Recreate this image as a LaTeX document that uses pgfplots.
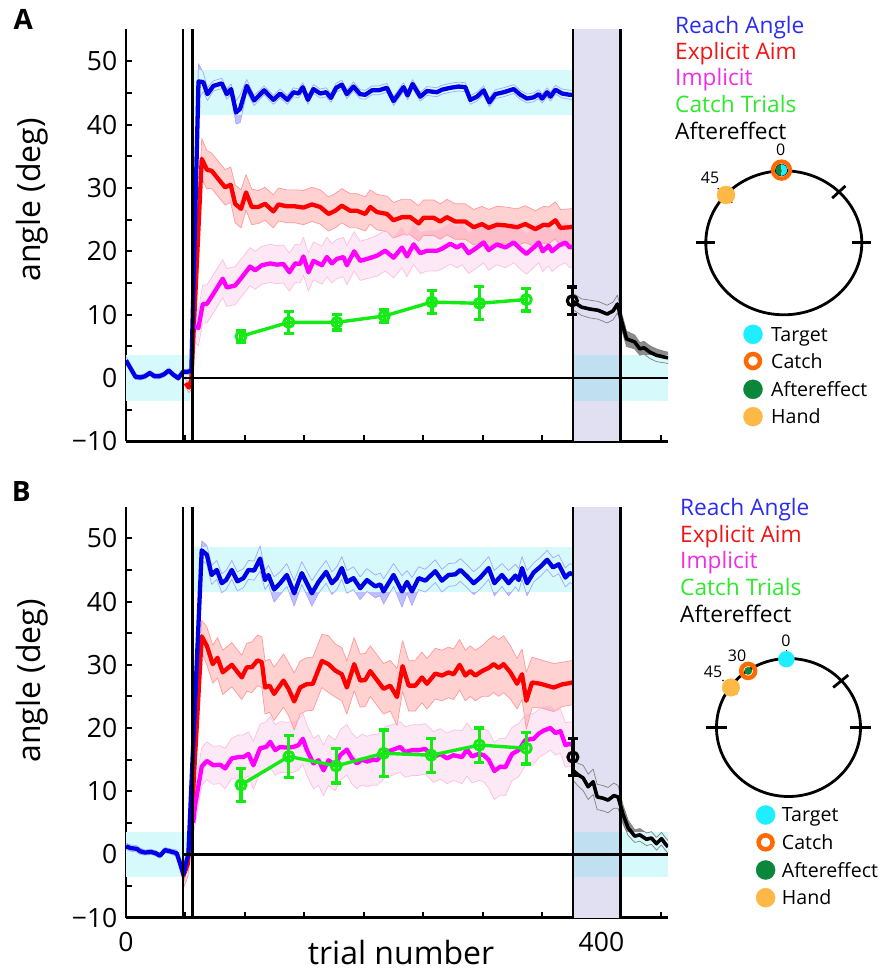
\documentclass[border=0pt]{standalone}
\usepackage{fontspec}
\setmainfont{Open Sans}
\usepackage{pgfplots}
\pgfplotsset{compat=1.18}
\usepackage{pgfplotstable}
\usepgfplotslibrary{fillbetween}
\usetikzlibrary{plotmarks}

\definecolor{cyanband}{RGB}{214,249,252}
\definecolor{lav}{RGB}{225,224,243}
\definecolor{overlap}{RGB}{192,224,241}
\definecolor{lblue}{RGB}{0,0,230}
\definecolor{lred}{RGB}{255,0,0}
\definecolor{lmag}{RGB}{255,0,255}
\definecolor{lgreen}{RGB}{20,235,20}
\definecolor{tblue}{RGB}{43,43,242}
\definecolor{tred}{RGB}{240,20,20}
\definecolor{tmag}{RGB}{240,46,230}
\definecolor{tgreen}{RGB}{47,232,47}
\definecolor{targc}{RGB}{30,238,255}
\definecolor{orangec}{RGB}{255,106,0}
\definecolor{aegreen}{RGB}{10,135,58}
\definecolor{handc}{RGB}{253,184,69}

% ---------------- Panel A data ----------------
\pgfplotstableread{
t v e
0 2.8 0.6
4 1.5 0.5
8 0.2 0.4
12 0.1 0.4
16 0.3 0.4
20 0.8 0.4
24 0.3 0.4
28 0.3 0.4
32 0.6 0.4
36 1.2 0.4
40 0.5 0.4
44 0.0 0.4
48 1.0 0.4
52 1.0 0.4
55 1.2 0.5
61 46.8 2.8
65 46.7 1.5
68.5 44.8 1.0
73.5 46.1 0.8
80.6 46.5 0.8
84.8 44.8 0.8
88.4 45.6 0.8
92.6 41.9 1.8
96 42.5 2.2
101.6 46.1 1.0
107.8 43.8 0.8
116.2 45.4 0.7
124 43.9 0.7
129.7 44.9 0.7
135.8 43.9 0.7
140.9 45.1 0.7
145.1 44.9 0.7
148.8 45.9 0.7
153 43.9 0.7
157.7 45.6 0.7
163.4 44.9 0.7
168.4 45.1 0.7
172.4 44.2 0.7
176.8 45.8 0.7
181.6 46.3 0.7
185.8 44.8 0.7
191.4 46.0 0.7
197 44.8 0.7
201.3 44.7 0.7
206.9 45.4 0.7
212.5 45.4 0.7
219.5 45.8 0.7
225.1 43.7 0.7
233.5 45.9 0.7
236.9 44.6 0.7
241.1 46.4 0.7
247.6 44.4 0.7
253.2 45.3 0.7
261.6 45.1 0.7
265.8 45.5 0.7
272.8 45.8 0.7
279.8 46.0 0.7
285.5 45.9 0.7
289.7 43.9 0.7
295.3 44.4 0.7
300.9 45.4 0.7
305.7 43.5 0.7
310.7 44.8 0.7
317.7 45.1 0.7
326.2 45.6 0.7
331.8 44.7 0.7
337.4 44.1 0.7
343 44.3 0.7
347.2 44.8 0.7
350.1 44.1 0.7
354.3 45.1 0.7
357.1 44.4 0.7
361.3 45.5 0.7
366.9 44.9 0.7
373.3 44.7 0.7
375.5 44.7 0.7
}\Ablue

\pgfplotstableread{
t v e
50 -0.8 0.6
53 -1.5 0.8
55 -0.3 1.5
63.7 34.6 3.2
68 32.9 3.0
72.1 32.7 2.8
77.7 31.4 2.8
83.4 30.1 2.8
88.1 30.5 2.8
91.8 27.5 3.0
96.8 26.7 3.0
101 29.3 2.8
105.8 27.0 2.8
111.4 27.0 2.6
117 27.5 2.6
124 26.3 2.6
128.3 27.4 2.6
135.3 27.1 2.6
142.3 27.1 2.6
149.3 26.9 2.7
156.4 27.4 2.7
163.4 27.0 2.7
170.4 25.9 2.7
176 26.4 2.7
181.6 27.2 2.7
188.6 26.4 2.7
194.3 26.4 2.7
201.3 25.9 2.7
205.5 27.0 2.7
211.1 26.2 2.8
219.5 25.9 2.8
225.1 24.9 2.8
232.2 25.4 2.8
239.2 25.4 2.8
246.2 24.4 2.8
250.4 25.3 2.8
258.8 25.3 2.8
264.4 24.7 2.8
270 25.4 2.8
277 24.7 2.8
285.5 24.7 2.8
292.5 23.8 2.8
299.5 24.3 2.8
305.1 23.7 2.9
312.1 24.2 2.9
319.2 24.1 2.9
329 23.8 2.9
336 24.3 2.9
344.4 23.5 2.9
351.4 24.2 2.9
355.6 24.1 2.9
361.3 24.9 2.9
365.5 23.7 2.9
373.3 23.8 2.9
375.5 23.9 2.9
}\Ared

\pgfplotstableread{
t v e
56.7 8.3 2.5
60.9 7.9 2.8
64.6 11.7 3.0
68 11.7 3.0
73.5 13.3 3.0
81.4 15.7 3.0
84.8 14.3 3.0
91.8 14.6 3.0
97.4 15.9 3.0
104.4 17.6 3.0
108.6 17.0 3.0
114.3 17.8 3.0
121.3 18.1 3.0
126.9 17.9 3.0
132.5 18.0 3.0
137.5 16.7 3.0
142.3 18.1 3.0
146.5 18.0 3.0
149.3 19.2 3.0
153.5 16.7 3.0
157.7 18.5 3.0
164.8 17.8 3.0
169 19.1 3.1
173.2 18.1 3.1
177.4 18.8 3.1
183 19.1 3.1
185.8 17.8 3.1
192 20.0 3.1
197 18.5 3.1
202.7 18.8 3.1
211.1 19.3 3.2
218.1 20.1 3.2
225.1 19.0 3.2
232.2 20.6 3.2
236.4 19.2 3.2
242 21.1 3.2
247.6 19.7 3.2
253.2 20.1 3.2
261.6 20.1 3.2
265.8 20.4 3.2
272.8 21.2 3.2
278.5 20.6 3.2
282.7 21.1 3.2
288.3 19.7 3.2
295.3 20.6 3.2
300.9 21.4 3.2
305.1 20.2 3.2
312.1 21.1 3.2
319.2 20.6 3.2
326.2 21.4 3.2
331.8 20.4 3.2
336.8 19.6 3.2
343 20.6 3.2
347.2 21.4 3.2
350.6 20.0 3.2
355.6 20.9 3.2
358.4 20.0 3.2
364 20.9 3.2
369.7 21.4 3.2
373.3 20.6 3.2
375.5 20.8 3.2
}\Amag

\pgfplotstableread{
t v e
96.8 6.6 0.9
137 8.8 1.7
177.4 8.8 1.2
217.3 9.8 1.0
257.4 12.0 1.8
297.3 11.8 2.6
336.8 12.4 1.8
}\Agreen

\pgfplotstableread{
t v e
376 12.1 1.3
383.2 11.2 1.3
390.2 10.9 1.4
397.2 10.7 1.4
404.8 10.1 1.4
409.8 10.6 1.4
413.5 11.7 1.4
416.8 9.1 1.3
421.1 6.2 1.2
428 5.7 1.1
432.3 4.6 1.0
435.7 4.8 1.0
440.7 4.1 1.0
446.3 3.6 1.0
453.3 3.3 0.9
456 3.2 0.9
}\Ablack

% ---------------- Panel B data ----------------
\pgfplotstableread{
t v e
0 1.3 0.5
4 1.0 0.5
9 0.9 0.5
12 0.5 0.5
16 0.3 0.4
21 0.4 0.4
25 0.2 0.4
28.6 -0.2 0.4
32.8 0.7 0.4
37 0.5 0.4
42.7 0.2 0.5
48.3 -3.1 1.5
52.5 0.1 1.0
63.7 48.1 1.5
68 47.4 1.5
72.1 44.2 1.5
76.4 45.0 1.5
80.6 42.9 1.5
84.2 43.4 1.5
89 45.0 1.5
93.7 43.2 1.5
98.8 43.7 1.5
103 45.0 1.5
107.8 44.9 1.5
112.8 46.8 2.0
117 43.4 1.5
119.8 44.2 1.5
124.6 41.9 2.0
129.7 42.9 1.8
135.3 44.2 1.8
141.5 41.3 2.0
147.9 44.5 1.8
156.4 41.3 2.0
162 43.1 1.8
168.4 44.7 1.8
173.2 42.9 1.8
177.4 43.7 1.8
181.6 45.3 1.8
185.8 43.1 1.8
191.4 43.7 1.8
197 42.1 1.8
202.7 43.4 1.8
209.7 42.4 1.8
213.9 42.7 1.8
216.7 41.6 2.0
225.1 44.2 1.8
232.2 41.6 2.5
236.4 43.1 1.8
240.6 41.6 2.2
246.2 43.7 1.8
251.8 43.3 1.8
260.2 44.8 1.8
265.8 43.3 1.8
271.4 44.2 1.8
277 44.3 1.8
281.3 45.0 1.8
286.9 44.0 1.8
292.5 42.9 1.8
298.1 43.8 1.8
305.1 45.3 1.8
309.9 42.9 2.0
316.3 44.2 1.8
321.9 42.9 2.0
327.6 44.1 1.8
330.4 43.4 1.8
333.2 45.3 1.8
337.4 42.9 2.0
343 44.6 1.5
348.6 45.5 1.5
354.3 46.6 1.5
359.3 45.4 1.5
364 45.9 1.5
369.7 43.8 1.5
373.3 44.5 1.5
375.5 44.3 1.5
}\Bblue

\pgfplotstableread{
t v e
48 -3.5 2.0
52 -1.5 2.0
55 5.0 3.0
63.7 34.5 2.5
68 33.0 3.0
73 30.1 3.0
77 31.1 3.2
81.4 28.8 3.5
89 30.0 3.5
97.4 28.0 3.5
101.6 29.6 3.8
105.8 29.6 4.0
110.6 30.7 4.0
114.3 30.4 4.0
117 26.4 4.2
120.8 26.7 4.2
124.6 25.4 4.2
132.5 27.5 4.2
136.7 26.2 4.2
141.5 24.2 4.5
146.5 26.4 4.2
151.6 26.9 4.2
157.2 27.0 4.2
164.8 30.6 4.2
170.4 30.1 4.5
176 29.1 4.2
181.6 28.5 4.2
185.8 26.4 4.2
192 30.1 4.2
197 27.5 4.2
201.3 27.6 4.2
205.5 29.0 4.0
211.1 27.6 4.0
216.7 26.2 4.0
222.3 26.7 4.0
228 24.9 4.5
232.7 29.8 4.0
237.8 26.7 4.0
243.4 26.7 4.0
249 28.0 4.0
253.2 27.0 4.0
260.2 28.6 4.0
265.8 28.3 4.0
271.4 28.8 4.0
275.6 28.5 4.0
280.7 30.0 4.0
285.5 28.3 4.0
289.7 29.0 4.0
293.9 28.3 4.0
299.5 29.0 4.0
305.1 29.5 4.5
309.3 30.1 4.5
313.5 29.5 4.5
317.7 30.1 4.5
323.4 28.8 4.2
329 27.0 4.0
333.2 28.5 4.0
336.8 24.3 4.5
341.6 27.2 4.0
348.6 27.0 3.8
359.8 26.4 3.8
366.9 26.9 3.5
373.3 27.1 3.5
375.5 27.2 3.5
}\Bred

\pgfplotstableread{
t v e
56.5 5.0 2.0
58 7.6 3.0
63.7 13.9 3.0
68 14.8 3.0
73.5 14.1 3.0
79.2 14.2 3.0
83.4 13.6 3.2
89 15.2 3.2
94.7 15.4 3.5
98.8 15.4 3.5
103 15.9 3.5
107.2 14.1 3.8
112.8 16.8 3.8
117.9 17.0 4.0
121.3 17.8 4.0
125.5 16.5 4.0
129.7 17.0 4.0
135.3 16.9 4.0
140.9 17.0 4.0
145.1 17.3 4.0
148.8 18.3 4.0
152.2 16.5 4.0
157.7 14.4 4.0
162 14.9 4.0
166.2 13.3 4.0
170.4 14.9 4.0
176 14.1 4.0
180.2 15.7 4.0
185.8 16.6 4.0
190 15.2 4.0
194.3 14.4 4.0
198.5 15.0 4.0
202.7 14.7 4.0
208.3 15.0 4.0
211.1 14.9 4.0
218.1 16.2 4.0
223.7 16.5 4.0
230.7 17.0 4.0
234.9 16.2 4.0
240.6 16.5 4.0
246.2 16.5 4.0
251.8 16.7 4.0
258.8 15.4 4.0
264.4 15.9 4.0
270 15.2 4.0
275.6 15.7 4.0
282.7 15.4 4.2
286.9 16.6 4.2
291.1 15.5 4.2
296.8 15.9 4.2
301 15.7 4.2
305.1 15.0 4.5
309.9 13.2 4.5
315 13.9 4.5
319.2 13.8 4.5
324.8 15.9 4.2
330.4 16.5 4.2
336 18.1 4.0
343 18.3 4.0
347.2 19.1 3.8
351.4 19.6 3.8
357.1 20.0 3.5
361.3 19.2 3.5
365.5 19.5 3.5
369.7 17.3 3.5
373.3 17.5 3.5
375.5 17.3 3.5
}\Bmag

\pgfplotstableread{
t v e
96.8 11.0 2.6
137 15.5 3.3
176.8 14.0 2.7
216.7 16.0 3.7
256.8 15.7 2.7
297.3 17.3 2.7
336.8 16.8 2.5
}\Bgreen

\pgfplotstableread{
t v e
376 13.3 1.5
380.4 12.6 1.8
384.6 12.1 2.0
388.8 10.7 2.0
393 11.5 2.0
396.4 9.1 2.0
401.3 8.9 2.0
405.6 8.6 2.0
410.4 9.3 2.0
414 9.1 1.8
418.2 6.3 1.5
422.5 4.2 1.2
428 2.9 1.0
432.3 3.1 1.0
437.9 2.4 1.0
442.1 2.6 1.0
446.3 1.7 1.0
450.5 2.5 1.0
454.1 1.6 1.0
456 1.2 1.0
}\Bblack

\pgfplotsset{
  mainax/.style={
    scale only axis, width=542pt,
    xmin=0, xmax=456, ymin=-10, ymax=55,
    axis lines*=left,
    axis line style={line width=2.4pt},
    tick align=inside,
    major tick length=6pt, minor tick length=6pt,
    every tick/.style={line width=2pt, black},
    xtick={0,50,...,450},
    ytick={-10,0,...,50},
    minor ytick={-5,5,...,45},
    yticklabels={−10,0,10,20,30,40,50},
    tick label style={font=\fontsize{26.5}{26.5}\selectfont, inner sep=1pt},
    yticklabel style={xshift=-7.5pt},
    xticklabel style={yshift=-13pt},
    every axis plot/.append style={line join=round},
  },
  band/.style={draw=#1, line width=0.7pt, forget plot},
  catchs/.style={lgreen, line width=3.4pt, mark=o, mark size=5pt,
    mark options={line width=3pt},
    error bars/.cd, y dir=both, y explicit,
    error bar style={line width=3.2pt},
    error mark options={rotate=90, mark size=5pt, line width=3.2pt}},
  aes/.style={black, only marks, mark=o, mark size=5pt,
    mark options={line width=3.2pt},
    error bars/.cd, y dir=both, y explicit,
    error bar style={line width=3.4pt},
    error mark options={rotate=90, mark size=5pt, line width=3.4pt}},
}

\newcommand{\bandplot}[4]{% table, name, edge color, fill options
  \addplot[band=#3, name path=#2u] table[x=t, y expr=\thisrow{v}+\thisrow{e}] {#1};
  \addplot[band=#3, name path=#2l] table[x=t, y expr=\thisrow{v}-\thisrow{e}] {#1};
  \addplot[#4, draw=none] fill between[of=#2u and #2l];
}
\newcommand{\refl}{%
  \draw[line width=2.3pt] (axis cs:48,0) -- (axis cs:456,0);
  \draw[line width=2.3pt] (axis cs:48,-10) -- (axis cs:48,55);
  \draw[line width=2.3pt] (axis cs:56,-10) -- (axis cs:56,55);
  \draw[line width=2.3pt] (axis cs:376,-10) -- (axis cs:376,55);
  \draw[line width=2.3pt] (axis cs:416,-10) -- (axis cs:416,55);
}
\newcommand{\bgs}{%
  \fill[cyanband] (axis cs:0,-3.6) rectangle (axis cs:54,3.6);
  \fill[cyanband] (axis cs:56,41.5) rectangle (axis cs:376,48.6);
  \fill[lav] (axis cs:376,-10) rectangle (axis cs:416,55);
  \fill[overlap] (axis cs:376,-3.6) rectangle (axis cs:416,3.6);
  \fill[cyanband] (axis cs:416,-3.6) rectangle (axis cs:456,3.6);
}

\begin{document}
\begin{tikzpicture}
\path (0,0) rectangle (882pt,971pt);

% ================= Panel A =================
\begin{axis}[mainax, at={(126pt,529.5pt)}, anchor=south west, height=412pt,
  xticklabels={}]
  \bgs
  \bandplot{\Ablack}{Ak}{gray}{fill=black, fill opacity=0.45}
  \bandplot{\Ared}{Ar}{red!40}{fill=red, fill opacity=0.18}
  \bandplot{\Amag}{Am}{magenta!25}{fill=magenta, fill opacity=0.09}
  \bandplot{\Ablue}{Ab}{blue!35}{fill=blue, fill opacity=0.25}

  \addplot[lred, line width=4.3pt] table[x=t,y=v] {\Ared};
  \addplot[lmag, line width=4.3pt] table[x=t,y=v] {\Amag};
  \addplot[lblue, line width=4.3pt] table[x=t,y=v] {\Ablue};
  \addplot[black, line width=3.6pt] table[x=t,y=v] {\Ablack};
  \refl
  \addplot[catchs] table[x=t, y=v, y error=e] {\Agreen};
  \addplot[aes] coordinates {(375.5,12.2) +- (0,2.2)};
\end{axis}

% ================= Panel B =================
\begin{axis}[mainax, at={(126pt,53.3pt)}, anchor=south west, height=411pt,
  xticklabels={0,,,,,,,,400,}]
  \bgs
  \bandplot{\Bblack}{Bk}{gray}{fill=black, fill opacity=0.45}
  \bandplot{\Bred}{Br}{red!40}{fill=red, fill opacity=0.18}
  \bandplot{\Bmag}{Bm}{magenta!25}{fill=magenta, fill opacity=0.09}
  \bandplot{\Bblue}{Bb}{blue!35}{fill=blue, fill opacity=0.25}

  \addplot[lred, line width=4.3pt] table[x=t,y=v] {\Bred};
  \addplot[lmag, line width=4.3pt] table[x=t,y=v] {\Bmag};
  \addplot[lblue, line width=4.3pt] table[x=t,y=v] {\Bblue};
  \addplot[black, line width=3.6pt] table[x=t,y=v] {\Bblack};
  \refl
  \addplot[catchs] table[x=t, y=v, y error=e] {\Bgreen};
  \addplot[aes] coordinates {(376,15.4) +- (0,2.9)};
\end{axis}

% ================= Circle A =================
\begin{axis}[at={(682.4pt,541pt)}, anchor=south west, scale only axis,
  width=202.8pt, height=288pt, xmin=-1.3, xmax=1.3, ymin=-2.6, ymax=1.4,
  hide axis, clip=false]
  \draw[line width=2.8pt] (axis cs:0,0) ellipse [x radius=78pt, y radius=72pt];
  \draw[line width=2.8pt] (axis cs:-1.12,0) -- (axis cs:-0.88,0);
  \draw[line width=2.8pt] (axis cs:0.88,0) -- (axis cs:1.12,0);
  \draw[line width=2.8pt] (axis cs:0.62,0.62) -- (axis cs:0.79,0.79);
  \draw[line width=1.2pt, dotted] (axis cs:-0.847,0.757) -- (axis cs:-0.655,0.549);
  \addplot[only marks, mark=*, mark size=9pt, color=handc] coordinates {(-0.741,0.664)};
  \addplot[only marks, mark=o, mark size=8.7pt, mark options={line width=4pt}, color=orangec] coordinates {(-0.03,1.01)};
  \addplot[only marks, mark=halfcircle*, mark size=6pt,
    mark options={rotate=90, fill=aegreen, mark color=targc, draw=none}] coordinates {(-0.03,1.01)};
  \addplot[only marks, mark=*, mark size=9.5pt, color=targc] coordinates {(-0.395,-1.271)};
  \addplot[only marks, mark=o, mark size=7pt, mark options={line width=4.5pt}, color=orangec] coordinates {(-0.395,-1.642)};
  \addplot[only marks, mark=*, mark size=9.5pt, color=aegreen] coordinates {(-0.395,-2.035)};
  \addplot[only marks, mark=*, mark size=9.5pt, color=handc] coordinates {(-0.395,-2.415)};
\end{axis}

% ================= Circle B =================
\begin{axis}[at={(694.9pt,57.2pt)}, anchor=south west, scale only axis,
  width=187.2pt, height=282.9pt, xmin=-1.3, xmax=1.3, ymin=-2.7, ymax=1.4,
  hide axis, clip=false]
  \draw[line width=2.8pt] (axis cs:0,0) ellipse [x radius=72pt, y radius=69pt];
  \draw[line width=2.8pt] (axis cs:-1.14,0) -- (axis cs:-0.86,0);
  \draw[line width=2.8pt] (axis cs:0.86,0) -- (axis cs:1.14,0);
  \draw[line width=2.8pt] (axis cs:0.62,0.58) -- (axis cs:0.83,0.76);
  \draw[line width=1.2pt, dotted] (axis cs:-0.916,0.688) -- (axis cs:-0.699,0.471);
  \draw[line width=1.2pt, dotted] (axis cs:-0.03,1.13) -- (axis cs:-0.03,0.87);
  \addplot[only marks, mark=*, mark size=8.8pt, color=handc] coordinates {(-0.80,0.58)};
  \addplot[only marks, mark=*, mark size=8pt, color=targc] coordinates {(-0.03,0.99)};
  \addplot[only marks, mark=o, mark size=7pt, mark options={line width=4.5pt}, color=orangec] coordinates {(-0.56,0.82)};
  \addplot[only marks, mark=*, mark size=3.7pt, color=aegreen] coordinates {(-0.56,0.82)};
  \addplot[only marks, mark=*, mark size=9.5pt, color=targc] coordinates {(-0.318,-1.268)};
  \addplot[only marks, mark=o, mark size=7pt, mark options={line width=4.5pt}, color=orangec] coordinates {(-0.318,-1.664)};
  \addplot[only marks, mark=*, mark size=9.5pt, color=aegreen] coordinates {(-0.318,-2.065)};
  \addplot[only marks, mark=*, mark size=9.5pt, color=handc] coordinates {(-0.318,-2.467)};
\end{axis}

% ================= Texts =================
\tikzset{lg/.style={anchor=base west, inner sep=0pt, font=\fontsize{22.7}{22.7}\selectfont},
         lg2/.style={anchor=base west, inner sep=0pt, font=\fontsize{19.6}{19.6}\selectfont},
         cl/.style={anchor=base, inner sep=0pt, font=\fontsize{16}{16}\selectfont}}
\node[anchor=base west, inner sep=0pt, font=\fontsize{28}{28}\selectfont\bfseries] at (13.3pt,941pt) {A};
\node[anchor=base west, inner sep=0pt, font=\fontsize{28}{28}\selectfont\bfseries] at (11.7pt,469.3pt) {B};
\node[rotate=90, inner sep=0pt, font=\fontsize{32}{32}\selectfont] at (32pt,771pt) {angle (deg)};
\node[rotate=90, inner sep=0pt, font=\fontsize{32}{32}\selectfont] at (32pt,290pt) {angle (deg)};
\node[anchor=base, inner sep=0pt, font=\fontsize{32}{32}\selectfont] at (401pt,6pt) {trial number};
\node[lg, text=tblue] at (675pt,937.7pt) {Reach Angle};
\node[lg, text=tred] at (675pt,911pt) {Explicit Aim};
\node[lg, text=tmag] at (675pt,885pt) {Implicit};
\node[lg, text=tgreen] at (675pt,858.3pt) {Catch Trials};
\node[lg, text=black] at (675pt,831.7pt) {Aftereffect};
\node[lg, text=tblue] at (680pt,455pt) {Reach Angle};
\node[lg, text=tred] at (680pt,428.3pt) {Explicit Aim};
\node[lg, text=tmag] at (680pt,402pt) {Implicit};
\node[lg, text=tgreen] at (680pt,375.3pt) {Catch Trials};
\node[lg, text=black] at (680pt,348.3pt) {Aftereffect};
\node[lg2] at (771pt,629.3pt) {Target};
\node[lg2] at (771pt,602.7pt) {Catch};
\node[lg2] at (771pt,574.3pt) {Aftereffect};
\node[lg2] at (771pt,547pt) {Hand};
\node[lg2] at (781.7pt,149.3pt) {Target};
\node[lg2] at (781.7pt,121.7pt) {Catch};
\node[lg2] at (781.7pt,93.7pt) {Aftereffect};
\node[lg2] at (781.7pt,66pt) {Hand};
\node[cl] at (780.7pt,815pt) {0};
\node[cl] at (710pt,787.7pt) {45};
\node[cl] at (786pt,324.3pt) {0};
\node[cl] at (737pt,309.3pt) {30};
\node[cl] at (713pt,293.7pt) {45};

\pgfresetboundingbox
\path[use as bounding box] (0,0) rectangle (882pt,971pt);
\end{tikzpicture}
\end{document}
